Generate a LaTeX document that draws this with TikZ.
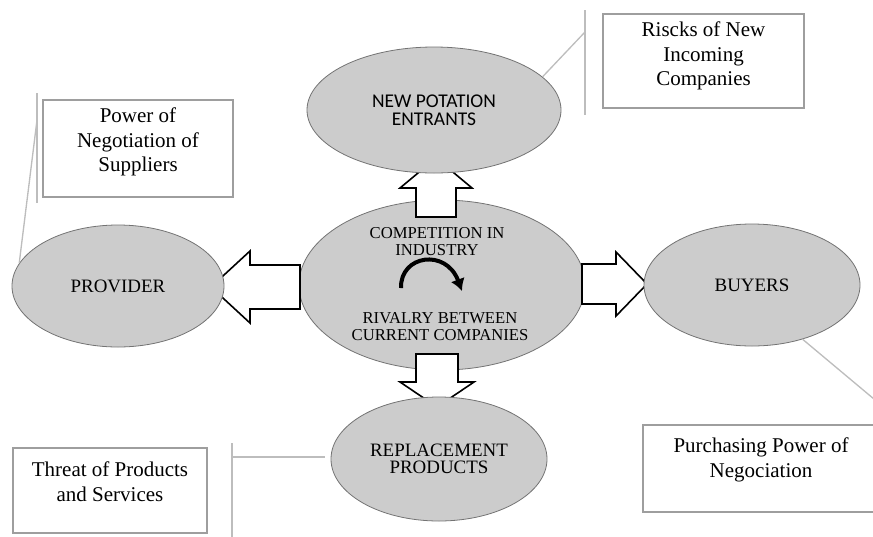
\documentclass[tikz,border=0pt]{standalone}
\usepackage{fontspec}
\setmainfont{Liberation Serif}
\newfontfamily\calibrifont{Carlito}
\usetikzlibrary{shapes.geometric,positioning,arrows.meta}

\definecolor{ForceColor}{rgb}{0.8,0.8,0.8}
\definecolor{ForceLine}{rgb}{0.45,0.45,0.45}
\definecolor{CalloutColor}{rgb}{0.74,0.74,0.74}
\definecolor{BoxLineColor}{rgb}{0.62,0.62,0.62}
\tikzstyle{force-base}=[ellipse,
                        draw=ForceLine,
                        fill=ForceColor,
                        line width=0.6pt,
                        inner sep=0pt,
                        align=center
                       ]
\tikzstyle{force}=[force-base,
                   font=\fontsize{14.2}{12.8}\selectfont]
\tikzstyle{corelabel}=[inner sep=0pt, align=center, font=\fontsize{12.5}{12.8}\selectfont]
\tikzstyle{notebox}=[rectangle, draw=BoxLineColor, line width=0.8pt, fill=white]
\tikzstyle{notetext}=[inner sep=0pt, align=center, font=\fontsize{15.75}{18.4}\selectfont]
\tikzstyle{callout}=[draw=CalloutColor, line width=1pt]
\tikzstyle{blockarrow}=[draw=black, fill=white, line width=1.2pt, line join=miter]

\begin{document}
\begin{tikzpicture}[x=0.75pt, y=-0.75pt]
\useasboundingbox (0,0) rectangle (873,536);

\node at (442,285) (core) [force-base, minimum width=214.5pt, minimum height=127.5pt] {};
  \node at (437,242) (core_top) [corelabel] {COMPETITION IN\\INDUSTRY};
  \node at (440,327) (core_bot) [corelabel] {RIVALRY BETWEEN\\CURRENT COMPANIES};
  \coordinate (cycle_in) at (401,288);
  \coordinate (cycle_out) at (462,291);
  \draw[line width=3pt, -{Latex[length=9pt,width=11pt]}] (cycle_in) .. controls (400,255) and (446,248) .. (cycle_out);

% block arrows out of the core
\coordinate (up_tail) at (436,217);
\coordinate (down_tail) at (437,354);
\coordinate (left_tail) at (300,287);
\coordinate (right_tail) at (582,284);
\draw[blockarrow] (up_tail) ++(-20,0) -- ++(0,-29) -- ++(-16,0) -- ++(36,-30) -- ++(36,30) -- ++(-16,0) -- ++(0,29) -- cycle;
\draw[blockarrow] (down_tail) ++(-21,0) -- ++(0,28) -- ++(-16,0) -- ++(37,25) -- ++(37,-25) -- ++(-16,0) -- ++(0,-28) -- cycle;
\draw[blockarrow] (left_tail) ++(0,-22) -- ++(-50,0) -- ++(0,-14) -- ++(-39,36) -- ++(39,36) -- ++(0,-14) -- ++(50,0) -- cycle;
\draw[blockarrow] (right_tail) ++(0,-20) -- ++(34,0) -- ++(0,-12) -- ++(31,32) -- ++(-31,32) -- ++(0,-12) -- ++(-34,0) -- cycle;

\node at (434,110) (entrants) [force-base, minimum width=190.5pt, minimum height=94.5pt, font=\calibrifont\fontsize{14.6}{13.6}\selectfont] {NEW POTATION\\ENTRANTS};
\node at (118,286) (provider) [force, minimum width=159pt, minimum height=91.5pt] {PROVIDER};
\node at (752,285) (buyers) [force, minimum width=162pt, minimum height=91.5pt] {BUYERS};
\node at (439,459) (replacement) [force, minimum width=162pt, minimum height=93pt] {REPLACEMENT\\PRODUCTS};

% notes
\node at (138,148.5) (pow_box) [notebox, minimum width=142.5pt, minimum height=72.75pt] {};
  \node [notetext, below=6pt of pow_box.north] (pow_text) {Power of\\Negotiation of\\Suppliers};
\node at (703.5,61) (risk_box) [notebox, minimum width=150.75pt, minimum height=70.5pt] {};
  \node [notetext, below=6pt of risk_box.north] (risk_text) {Riscks of New\\Incoming\\Companies};
\node at (761,468.5) (pur_box) [notebox, minimum width=177pt, minimum height=65.25pt] {};
  \node [notetext, below=10pt of pur_box.north] (pur_text) {Purchasing Power of\\Negociation};
\node at (110,490.5) (thr_box) [notebox, minimum width=145.5pt, minimum height=63.75pt] {};
  \node [notetext, below=10.5pt of thr_box.north] (thr_text) {Threat of Products\\and Services};

\coordinate (pow_bar_top) at (37,93);
\coordinate (pow_bar_bot) at (37,203);
\coordinate (pow_bar_knee) at (37,120);
\draw[callout] (pow_bar_top) -- (pow_bar_bot);
\draw[callout] (pow_bar_knee) -- (provider.167);

\coordinate (risk_bar_top) at (585,10);
\coordinate (risk_bar_bot) at (585,115);
\coordinate (risk_bar_knee) at (585,32);
\draw[callout] (risk_bar_top) -- (risk_bar_bot);
\draw[callout] (risk_bar_knee) -- (entrants.17);

\coordinate (pur_bar_knee) at (905,425);
\draw[callout] (buyers.-47) -- (pur_bar_knee);

\coordinate (thr_bar_top) at (232,443);
\coordinate (thr_bar_bot) at (232,545);
\coordinate (thr_bar_knee) at (232,457);
\draw[callout] (thr_bar_top) -- (thr_bar_bot);
\draw[callout, shorten >=4pt] (thr_bar_knee) -- (thr_bar_knee -| replacement.west);

\end{tikzpicture}
\end{document}
